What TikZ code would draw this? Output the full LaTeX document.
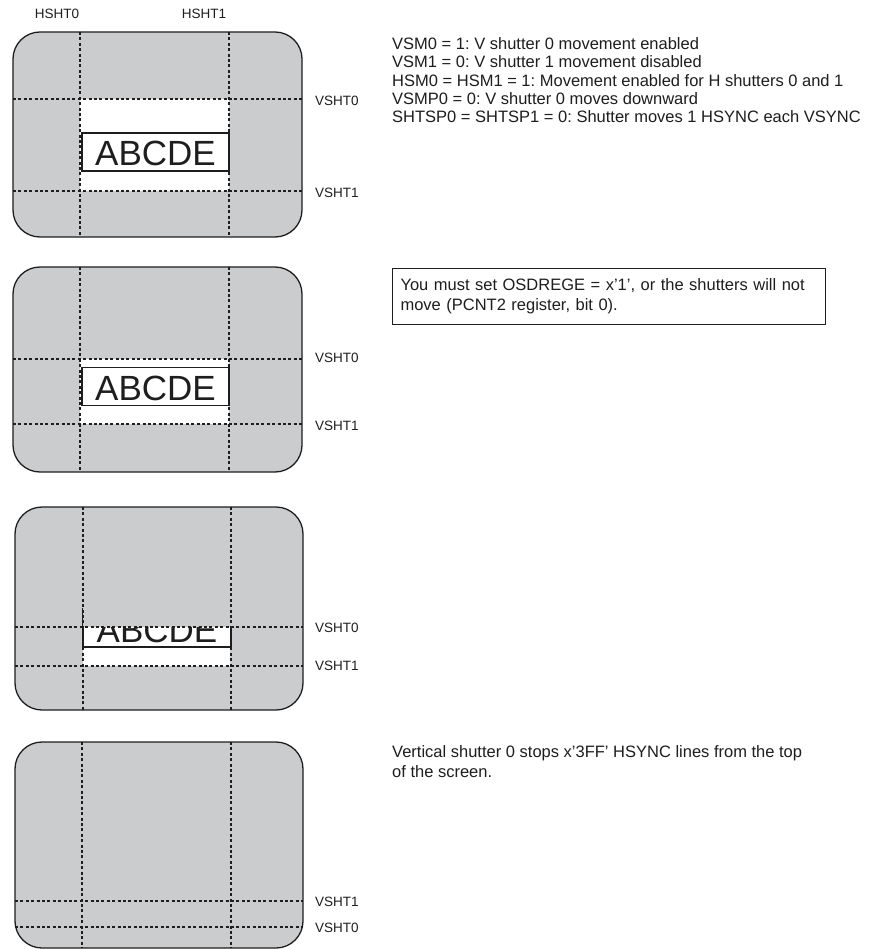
\documentclass[tikz,border=0pt]{standalone}
\usepackage{fontspec}
\setmainfont{Liberation Sans}
\definecolor{shut}{RGB}{203,204,206}
\definecolor{ink}{RGB}{30,30,30}
\frenchspacing
\begin{document}
\begin{tikzpicture}[x=1pt,y=-1pt,
  screen/.style={fill=shut, draw=ink, line width=1.3pt, rounded corners=27pt},
  shline/.style={draw=ink, dash pattern=on 3pt off 2.4pt, line width=1.2pt},
  lbl/.style={font=\fontsize{13.5}{16}\selectfont, inner sep=0pt, text=ink},
  txt/.style={font=\fontsize{16.5}{20}\selectfont, align=left, inner sep=0pt, anchor=north west, text=ink},
  abc/.style={draw=ink, line width=1.3pt, font=\fontsize{35}{40}\selectfont, inner sep=0pt, text height=33pt, text depth=5pt, minimum width=147pt, text=ink}
]
\useasboundingbox[fill=white] (0,0) rectangle (883,949);

% labels on top
\node[lbl] (hsht0) at (57,14) {HSHT0};
\node[lbl] (hsht1) at (204,14) {HSHT1};

% ---------- panel 1
\draw[screen] (13,32) rectangle (302,237);
\fill[white] (80,99) rectangle (229,191);
\node[abc] (abc1) at (155.5,152) {ABCDE};
\draw[shline] (80,32) -- (80,237);
\draw[shline] (229,32) -- (229,237);
\draw[shline] (13,99) -- (302,99);
\draw[shline] (13,191) -- (302,191);
\node[lbl, anchor=west] (p1v0) at (315,101) {VSHT0};
\node[lbl, anchor=west] (p1v1) at (315,193) {VSHT1};

\node[txt, font=\fontsize{16.5}{18.2}\selectfont] (notes) at (392,37.5) {VSM0 = 1: V shutter 0 movement enabled\\
VSM1 = 0: V shutter 1 movement disabled\\
HSM0 = HSM1 = 1: Movement enabled for H shutters 0 and 1\\
VSMP0 = 0: V shutter 0 moves downward\\
SHTSP0 = SHTSP1 = 0: Shutter moves 1 HSYNC each VSYNC};

% ---------- panel 2
\draw[screen] (13,267) rectangle (302,472);
\fill[white] (80,359) rectangle (229,424);
\node[abc] (abc2) at (155.5,386.5) {ABCDE};
\draw[shline] (80,267) -- (80,472);
\draw[shline] (229,267) -- (229,472);
\draw[shline] (13,359) -- (302,359);
\draw[shline] (13,424) -- (302,424);
\node[lbl, anchor=west] (p2v0) at (315,358) {VSHT0};
\node[lbl, anchor=west] (p2v1) at (315,426) {VSHT1};

\node[txt, draw=ink, line width=1pt, text width=417pt, inner xsep=8pt, inner ysep=10.5pt] (warn) at (392,268)
 {You must set OSDREGE = x’1’, or the shutters will not\\ move (PCNT2 register, bit 0).};

% ---------- panel 3
\draw[screen] (15,507) rectangle (303,710);
\fill[white] (83,627) rectangle (230,666);
\begin{scope}
  \clip (83,627) rectangle (232,667);
  \node[abc, minimum width=148pt] (abc3) at (157,628) {ABCDE};
\end{scope}
\draw[shline] (83,507) -- (83,710);
\draw[shline] (231,507) -- (231,710);
\draw[shline] (15,627) -- (303,627);
\draw[shline] (15,666) -- (303,666);
\draw[draw=ink, line width=1.3pt] (abc3.south west) -- (abc3.north west);
\node[lbl, anchor=west] (p3v0) at (315,628) {VSHT0};
\node[lbl, anchor=west] (p3v1) at (315,666) {VSHT1};

% ---------- panel 4
\draw[screen] (15,742) rectangle (303,948);
\draw[shline] (82,742) -- (82,948);
\draw[shline] (231,742) -- (231,948);
\draw[shline] (15,901) -- (303,901);
\draw[shline] (15,927) -- (303,927);
\node[lbl, anchor=west] (p4v1) at (315,902) {VSHT1};
\node[lbl, anchor=west] (p4v0) at (315,928) {VSHT0};

\node[txt] (stop) at (392,745) {Vertical shutter 0 stops x’3FF’ HSYNC lines from the top\\
of the screen.};
\end{tikzpicture}
\end{document}
